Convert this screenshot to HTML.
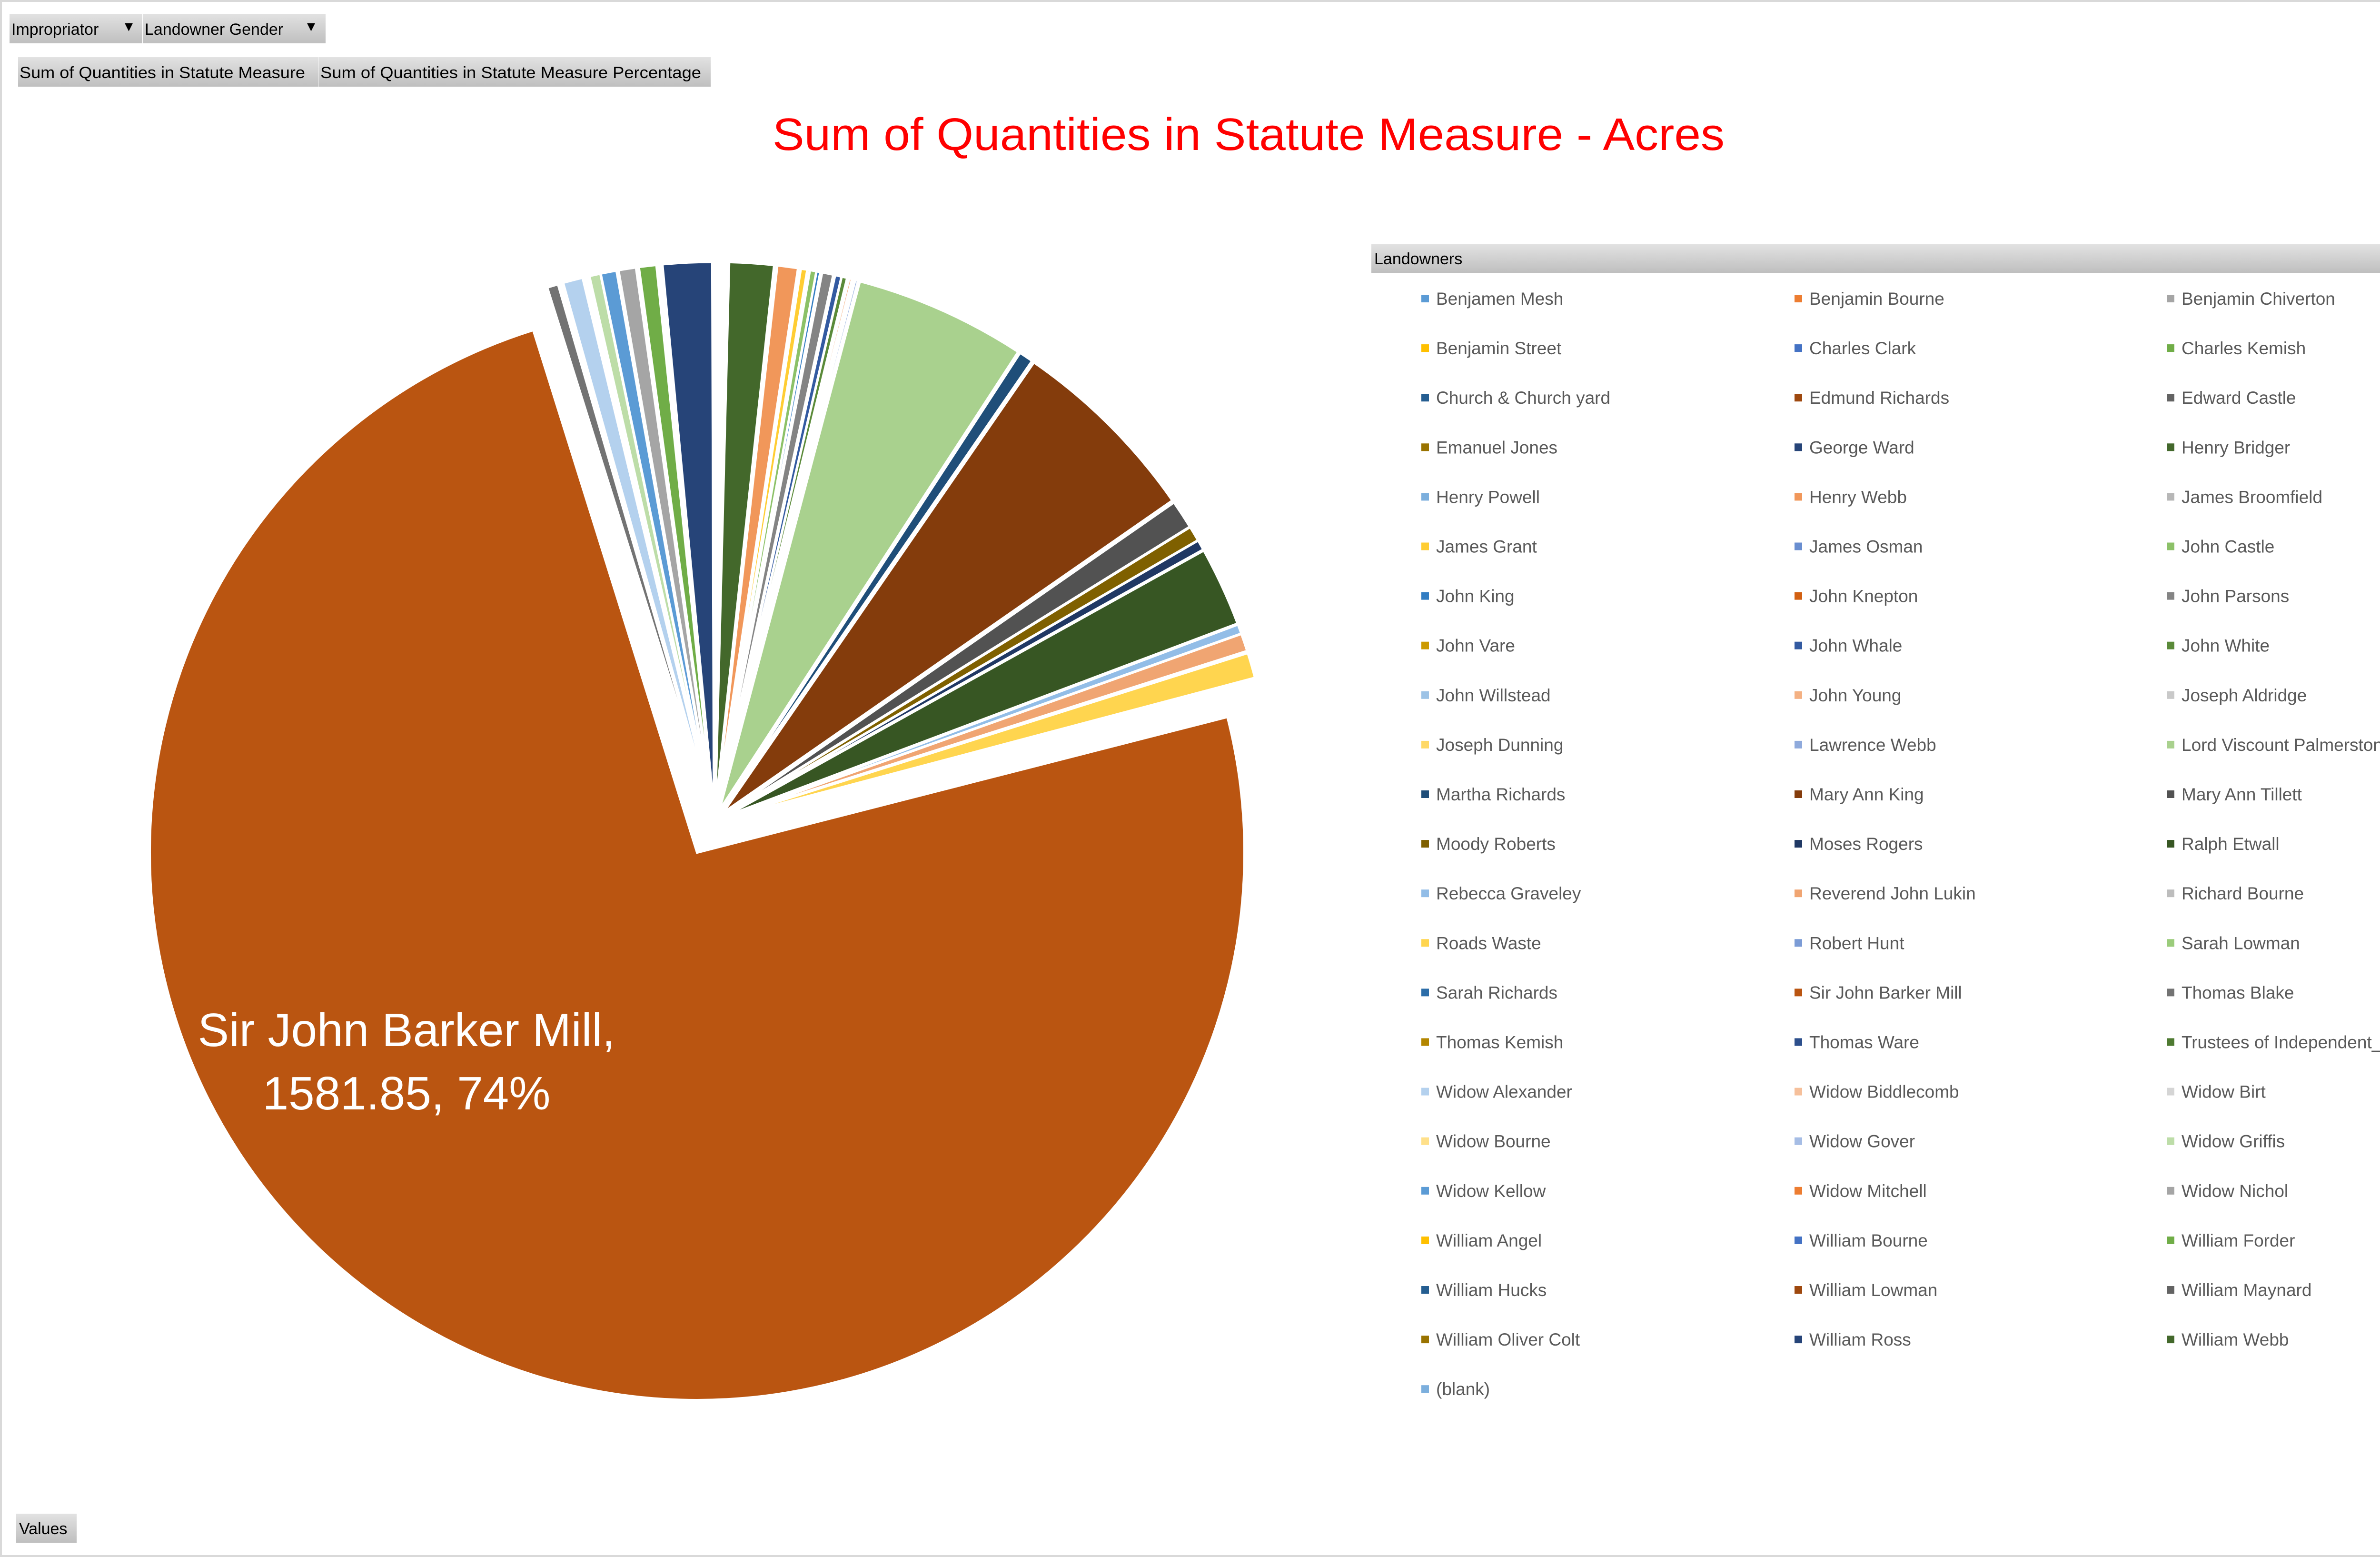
<!DOCTYPE html>
<html><head><meta charset="utf-8">
<style>
html,body{margin:0;padding:0;background:#fff;width:5253px;height:3270px;overflow:hidden;}
svg{display:block;position:absolute;left:0;top:0;}
.btn{font-family:"Liberation Sans",sans-serif;font-size:34px;fill:#000;}
.leg{font-family:"Liberation Sans",sans-serif;font-size:37px;fill:#595959;}
</style></head>
<body>
<svg id="chart" width="5253" height="3270" viewBox="0 0 5253 3270" xmlns="http://www.w3.org/2000/svg">
<defs>
<linearGradient id="bg" x1="0" y1="0" x2="0" y2="1"><stop offset="0" stop-color="#e2e2e2"/><stop offset="1" stop-color="#bfbfbf"/></linearGradient>
</defs>
<rect x="2" y="2" width="5249" height="3266" fill="#fff" stroke="#d9d9d9" stroke-width="4"/>
<g><rect x="20" y="29" width="279" height="62" fill="url(#bg)"/><text class="btn" x="24" y="73">Impropriator</text><text class="btn" x="262" y="66" font-size="20">▾</text></g>
<g><rect x="300" y="29" width="384" height="62" fill="url(#bg)"/><text class="btn" x="304" y="73">Landowner Gender</text><text class="btn" x="645" y="66" font-size="20">▾</text></g>
<g><rect x="38" y="120" width="630" height="62" fill="url(#bg)"/><text class="btn" x="41" y="164" textLength="600" lengthAdjust="spacingAndGlyphs">Sum of Quantities in Statute Measure</text></g>
<g><rect x="669" y="120" width="824" height="62" fill="url(#bg)"/><text class="btn" x="673" y="164" textLength="800" lengthAdjust="spacingAndGlyphs">Sum of Quantities in Statute Measure Percentage</text></g>
<g><rect x="34" y="3179" width="127" height="61" fill="url(#bg)"/><text class="btn" x="40" y="3222">Values</text></g>
<text x="2623" y="315" text-anchor="middle" font-family="Liberation Sans, sans-serif" font-size="96" fill="#ff0000" textLength="2000" lengthAdjust="spacingAndGlyphs">Sum of Quantities in Statute Measure - Acres</text>
<g><rect x="2881" y="513" width="2338" height="60" fill="url(#bg)"/><text class="btn" x="2887" y="555" font-size="36">Landowners</text><text class="btn" x="5190" y="551" font-size="18">▾</text></g>
<g id="slices"></g>
<g id="legend"></g>
<g>
<text id="lbl1" x="854" y="2197" text-anchor="middle" font-family="Liberation Sans, sans-serif" font-size="98" fill="#fff">Sir John Barker Mill,</text>
<text id="lbl2" x="854" y="2330" text-anchor="middle" font-family="Liberation Sans, sans-serif" font-size="98" fill="#fff"></text>
</g>
</svg>
<script>
const names = ["Benjamen Mesh","Benjamin Bourne","Benjamin Chiverton","Benjamin Street","Charles Clark","Charles Kemish","Church & Church yard","Edmund Richards","Edward Castle","Emanuel Jones","George Ward","Henry Bridger","Henry Powell","Henry Webb","James Broomfield","James Grant","James Osman","John Castle","John King","John Knepton","John Parsons","John Vare","John Whale","John White","John Willstead","John Young","Joseph Aldridge","Joseph Dunning","Lawrence Webb","Lord Viscount Palmerston","Martha Richards","Mary Ann King","Mary Ann Tillett","Moody Roberts","Moses Rogers","Ralph Etwall","Rebecca Graveley","Reverend John Lukin","Richard Bourne","Roads Waste","Robert Hunt","Sarah Lowman","Sarah Richards","Sir John Barker Mill","Thomas Blake","Thomas Kemish","Thomas Ware","Trustees of Independent_Chapel","Widow Alexander","Widow Biddlecomb","Widow Birt","Widow Bourne","Widow Gover","Widow Griffis","Widow Kellow","Widow Mitchell","Widow Nichol","William Angel","William Bourne","William Forder","William Hucks","William Lowman","William Maynard","William Oliver Colt","William Ross","William Webb","(blank)"];
const acres = [1.0,0.8,0.6,0.5,1.2,0.8,1.0,0.5,0.8,0.6,0.8,
28,1.5,13,1.5,4.1,1.5,4.1,2.4,1.0,7.1,1.0,4.1,3.5,1.2,1.8,1.0,1.0,1.8,
108,9,122,18,9.5,6.5,50,6,11.2,1.0,16,
1.0,1.0,1.0,1581.85,7,1.0,1.0,1.0,12.5,1.0,1.0,1.0,1.0,7,10,1.0,11,0.5,1.0,11,
0.8,0.8,0.8,0.8,31,0.5,0.5];
const palette = [
"#5B9BD5","#ED7D31","#A5A5A5","#FFC000","#4472C4","#70AD47",
"#255E91","#9E480E","#636363","#997300","#264478","#43682B",
"#7CAFDD","#F1975A","#B7B7B7","#FFCD33","#698ED0","#8CC168",
"#327DC2","#D26012","#848484","#CC9A00","#335AA1","#5A8A39",
"#9DC3E6","#F4B183","#C9C9C9","#FFD966","#8FAADC","#A9D18E",
"#1F4E79","#843C0C","#525252","#7F6000","#203864","#375623",
"#92BDE7","#F0A572","#BDBDBD","#FFD54F","#7C9CD6","#9BCC7B",
"#2C6DA8","#BA5511","#737373","#B38600","#2D4F8C","#4E7A31",
"#B4D1EE","#F6C09B","#D5D5D5","#FFE08A","#A6BDE5","#BDDDA8",
"#5B9BD5","#ED7D31","#A5A5A5","#FFC000","#4472C4","#70AD47",
"#255E91","#9E480E","#636363","#997300","#264478","#43682B","#7CAFDD"];

const NS = "http://www.w3.org/2000/svg";
const cx = 1501, cy = 1725, R = 1150;
const total = acres.reduce((a,b)=>a+b,0);
const maxIdx = acres.indexOf(Math.max(...acres));
const g = document.getElementById('slices');
function pt(c, a, r){ return [c[0] + r*Math.sin(a), c[1] - r*Math.cos(a)]; }
let start = 0;
acres.forEach((v,i)=>{
  const sweep = v/total*2*Math.PI;
  const mid = start + sweep/2;
  const ex = (i===maxIdx) ? 75 : 25;
  const c = [cx + ex*Math.sin(mid), cy - ex*Math.cos(mid)];
  const p1 = pt(c, start, R), p2 = pt(c, start+sweep, R);
  const large = sweep > Math.PI ? 1 : 0;
  const path = document.createElementNS(NS,'path');
  path.setAttribute('d', `M${c[0]},${c[1]} L${p1[0]},${p1[1]} A${R},${R} 0 ${large} 1 ${p2[0]},${p2[1]} Z`);
  path.setAttribute('fill', palette[i]);
  path.setAttribute('stroke', '#fff');
  path.setAttribute('stroke-width', '5');
  
  
  g.appendChild(path);
  start += sweep;
});
document.getElementById('lbl2').textContent = acres[maxIdx].toFixed(2) + ", " + Math.round(acres[maxIdx]/total*100) + "%";

const lg = document.getElementById('legend');
const colX = [2986, 3770, 4552];
names.forEach((n,i)=>{
  const col = i % 3, row = Math.floor(i/3);
  const y = 627 + row*104.1;
  const ent = document.createElementNS(NS,'g');
  
  
  const m = document.createElementNS(NS,'rect');
  m.setAttribute('x', colX[col]); m.setAttribute('y', y-8);
  m.setAttribute('width', 16); m.setAttribute('height', 16);
  m.setAttribute('fill', palette[i]);
  
  
  const t = document.createElementNS(NS,'text');
  t.setAttribute('class','leg');
  t.setAttribute('x', colX[col]+31); t.setAttribute('y', y+13);
  t.textContent = n;
  
  
  ent.appendChild(m); ent.appendChild(t);
  lg.appendChild(ent);
});
</script>
</body></html>
